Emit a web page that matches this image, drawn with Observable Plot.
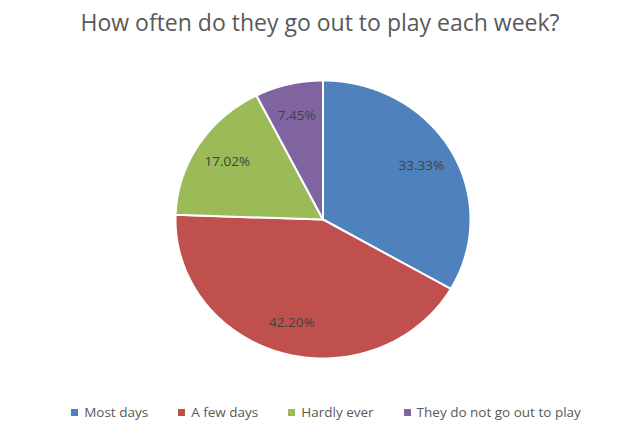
<!DOCTYPE html>
<html>
<head>
<meta charset="utf-8">
<script src="https://cdn.jsdelivr.net/npm/d3@7"></script>
<script src="https://cdn.jsdelivr.net/npm/@observablehq/plot@0.6"></script>
<style>
  html, body { margin: 0; padding: 0; background: #fff; }
  body { width: 632px; height: 443px; overflow: hidden; font-family: "Open Sans", "Liberation Sans", sans-serif; }
  #title { height: 45px; text-align: center; font-size: 23px; color: #595959; line-height: 44px; padding-left: 8px; }
  #chart svg { display: block; }
  #legend { display: flex; justify-content: center; gap: 30px; font-size: 13.5px; color: #595959; margin-top: 3px; padding-left: 20px; }
  .item { display: flex; align-items: center; }
  .sw { width: 7px; height: 7px; margin-right: 6px; }
</style>
</head>
<body>
<div id="title">How often do they go out to play each week?</div>
<div id="chart"></div>
<div id="legend"></div>
<script>
const categories = ["Most days", "A few days", "Hardly ever", "They do not go out to play"];
const values = [33.33, 42.20, 17.02, 7.45];
const labels = ["33.33%", "42.20%", "17.02%", "7.45%"];
const colors = ["#4F81BD", "#C0504D", "#9BBB59", "#8064A2"];

const arcs = d3.pie().sort(null).value(d => d.value)(
  categories.map((c, i) => ({category: c, value: values[i], label: labels[i], color: colors[i]}))
);

// polygon points for each slice in unit-circle data space (angle clockwise from top)
const slices = arcs.map(a => {
  const pts = [{x: 0, y: 0}];
  const n = 120;
  for (let k = 0; k <= n; k++) {
    const t = a.startAngle + (a.endAngle - a.startAngle) * k / n;
    pts.push({x: Math.sin(t), y: Math.cos(t)});
  }
  pts.push({x: 0, y: 0});
  return {data: a.data, pts};
});

const labelR = 0.77;
const labelPts = arcs.map(a => {
  const m = (a.startAngle + a.endAngle) / 2;
  return {x: labelR * Math.sin(m), y: labelR * Math.cos(m), text: a.data.label};
});

const H = 355;
const plot = Plot.plot({
  width: 632,
  height: H,
  margin: 0,
  x: {domain: [-1, 1], range: [175, 470], axis: null},
  y: {domain: [-1, 1], range: [313, 35], axis: null},
  marks: [
    ...slices.map(s => Plot.line(s.pts, {x: "x", y: "y", fill: s.data.color, stroke: "#fff", strokeWidth: 2, strokeLinejoin: "round"})),
    Plot.text(labelPts, {x: "x", y: "y", text: "text", fill: "#404040", fontSize: 13.5, fontFamily: "Open Sans, Liberation Sans, sans-serif"})
  ]
});
document.getElementById("chart").appendChild(plot);

const legend = document.getElementById("legend");
categories.forEach((c, i) => {
  const it = document.createElement("div");
  it.className = "item";
  it.innerHTML = `<span class="sw" style="background:${colors[i]}"></span><span>${c}</span>`;
  legend.appendChild(it);
});
</script>
</body>
</html>
